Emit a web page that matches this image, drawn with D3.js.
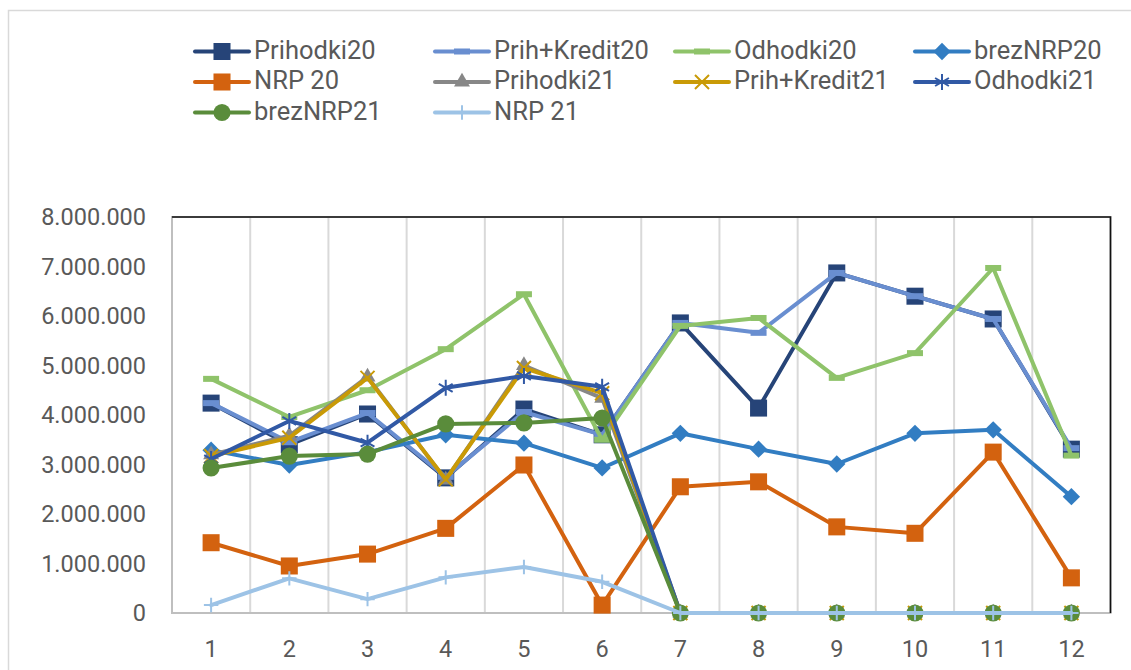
<!DOCTYPE html>
<html>
<head>
<meta charset="utf-8">
<script src="https://cdn.jsdelivr.net/npm/d3@7"></script>
<style>
  body { margin: 0; background: #fff; }
  svg text { font-family: Roboto, "Open Sans", sans-serif; fill: #595959; }
</style>
</head>
<body>
<div id="chart"></div>
<script>
// months on the x axis
const months = ['1', '2', '3', '4', '5', '6', '7', '8', '9', '10', '11', '12'];
const yTicks = [0, 1000000, 2000000, 3000000, 4000000, 5000000, 6000000, 7000000, 8000000];

// series values
const prihodki20   = [4240000, 3400000, 4020000, 2730000, 4120000, 3600000, 5860000, 4140000, 6870000, 6400000, 5940000, 3310000];
const prihKredit20 = [4240000, 3450000, 4040000, 2750000, 4060000, 3600000, 5860000, 5660000, 6870000, 6400000, 5940000, 3330000];
const odhodki20    = [4730000, 3960000, 4500000, 5330000, 6440000, 3500000, 5800000, 5960000, 4750000, 5250000, 6970000, 3180000];
const brezNRP20    = [3290000, 2990000, 3250000, 3600000, 3430000, 2930000, 3630000, 3310000, 3010000, 3630000, 3700000, 2350000];
const nrp20        = [1420000, 950000, 1190000, 1710000, 2990000, 160000, 2550000, 2650000, 1740000, 1610000, 3250000, 710000];
const prihodki21   = [3200000, 3580000, 4770000, 2690000, 5000000, 4340000, 0, 0, 0, 0, 0, 0];
const prihKredit21 = [3170000, 3540000, 4750000, 2700000, 4950000, 4440000, 0, 0, 0, 0, 0, 0];
const odhodki21    = [3110000, 3880000, 3440000, 4550000, 4790000, 4570000, 0, 0, 0, 0, 0, 0];
const brezNRP21    = [2930000, 3170000, 3210000, 3820000, 3840000, 3940000, 0, 0, 0, 0, 0, 0];
const nrp21        = [160000, 700000, 280000, 720000, 930000, 630000, 0, 0, 0, 0, 0, 0];

// legend order == draw order (excel fills the legend row by row)
const series = [
  {name: 'Prihodki20',    values: prihodki20,   color: '#264478', marker: 'square'},
  {name: 'Prih+Kredit20', values: prihKredit20, color: '#698ed0', marker: 'dash'},
  {name: 'Odhodki20',     values: odhodki20,    color: '#8fc36a', marker: 'dash'},
  {name: 'brezNRP20',     values: brezNRP20,    color: '#327dc2', marker: 'diamond'},
  {name: 'NRP 20',        values: nrp20,        color: '#d3620f', marker: 'square'},
  {name: 'Prihodki21',    values: prihodki21,   color: '#878787', marker: 'triangle'},
  {name: 'Prih+Kredit21', values: prihKredit21, color: '#c99a06', marker: 'times'},
  {name: 'Odhodki21',     values: odhodki21,    color: '#3159a5', marker: 'asterisk'},
  {name: 'brezNRP21',     values: brezNRP21,    color: '#5a8c3b', marker: 'circle'},
  {name: 'NRP 21',        values: nrp21,        color: '#9dc3e6', marker: 'plus'},
];

const W = 1131, H = 670;
const plot = {left: 172, right: 1110.5, top: 217, bottom: 613};

const locale = d3.formatLocale({decimal: ',', thousands: '.', grouping: [3], currency: ['', '€']});
const fmt = locale.format(',d');

const svg = d3.select('#chart').append('svg')
  .attr('width', W)
  .attr('height', H);

// outer chart frame (runs off the picture to the right and bottom)
svg.append('rect')
  .attr('x', 8.5).attr('y', 10.5)
  .attr('width', W).attr('height', H)
  .attr('fill', 'none')
  .attr('stroke', '#d9d9d9')
  .attr('stroke-width', 1.5);

const x = d3.scaleBand()
  .domain(months)
  .range([plot.left, plot.right])
  .padding(0);
const y = d3.scaleLinear()
  .domain([0, 8000000])
  .range([plot.bottom, plot.top]);

// vertical gridlines between categories
svg.append('g')
  .selectAll('line')
  .data(months.slice(1))
  .join('line')
    .attr('x1', d => x(d)).attr('x2', d => x(d))
    .attr('y1', plot.top).attr('y2', plot.bottom)
    .attr('stroke', '#d9d9d9')
    .attr('stroke-width', 2);

// plot area border: grey left/bottom, black top/right
svg.append('rect')
  .attr('x', plot.left).attr('y', plot.top)
  .attr('width', plot.right - plot.left)
  .attr('height', plot.bottom - plot.top)
  .attr('fill', 'none')
  .attr('stroke', '#bfbfbf')
  .attr('stroke-width', 2);
svg.append('path')
  .attr('d', `M${plot.left},${plot.top}H${plot.right}V${plot.bottom}`)
  .attr('fill', 'none')
  .attr('stroke', '#111')
  .attr('stroke-width', 1.6);

// axes (labels only, no tick marks)
const yAxis = d3.axisLeft(y)
  .tickValues(yTicks)
  .tickFormat(fmt)
  .tickSize(0)
  .tickPadding(26);
svg.append('g')
  .attr('transform', `translate(${plot.left},0)`)
  .call(yAxis)
  .call(g => g.select('.domain').remove())
  .selectAll('text')
    .attr('font-size', 23.5)
    .attr('font-family', null)
    .attr('fill', null);

const xAxis = d3.axisBottom(x)
  .tickSize(0)
  .tickPadding(27);
svg.append('g')
  .attr('transform', `translate(0,${plot.bottom})`)
  .call(xAxis)
  .call(g => g.select('.domain').remove())
  .selectAll('text')
    .attr('font-size', 23.5)
    .attr('font-family', null)
    .attr('fill', null);

// markers, drawn around (0,0)
function addMarker(sel, s) {
  const sym = (type, size) => d3.symbol().type(type).size(size)();
  switch (s.marker) {
    case 'square':
      sel.append('path').attr('d', sym(d3.symbolSquare, 290)).attr('fill', s.color);
      break;
    case 'diamond':
      sel.append('path').attr('d', sym(d3.symbolSquare, 150))
        .attr('transform', 'rotate(45)').attr('fill', s.color);
      break;
    case 'circle':
      sel.append('path').attr('d', sym(d3.symbolCircle, 230)).attr('fill', s.color);
      break;
    case 'triangle':
      sel.append('path').attr('d', sym(d3.symbolTriangle, 110)).attr('fill', s.color);
      break;
    case 'dash':
      sel.append('rect').attr('x', -8).attr('y', -3).attr('width', 16).attr('height', 6)
        .attr('fill', s.color);
      break;
    case 'times':
      sel.append('path').attr('d', sym(d3.symbolTimes, 130))
        .attr('fill', 'none').attr('stroke', s.color).attr('stroke-width', 2);
      break;
    case 'asterisk':
      sel.append('path').attr('d', sym(d3.symbolAsterisk, 180))
        .attr('fill', 'none').attr('stroke', s.color).attr('stroke-width', 2);
      break;
    case 'plus':
      sel.append('path').attr('d', sym(d3.symbolPlus, 70))
        .attr('fill', 'none').attr('stroke', s.color).attr('stroke-width', 2);
      break;
  }
}

const line = d3.line()
  .x((d, i) => x(months[i]) + x.bandwidth() / 2)
  .y(d => y(d));

for (const s of series) {
  const g = svg.append('g').attr('class', 'series');
  g.append('path')
    .attr('d', line(s.values))
    .attr('fill', 'none')
    .attr('stroke', s.color)
    .attr('stroke-width', 4)
    .attr('stroke-linejoin', 'round')
    .attr('stroke-linecap', 'round');
  g.selectAll('g.pt')
    .data(s.values)
    .join('g')
      .attr('class', 'pt')
      .attr('transform', (d, i) => `translate(${x(months[i]) + x.bandwidth() / 2},${y(d)})`)
      .each(function() { addMarker(d3.select(this), s); });
}

// legend: 4 columns, filled row by row
const legend = {x0: 195, colW: 240, y0: 51.5, rowH: 30.5, lineLen: 54};
const lg = svg.append('g').attr('class', 'legend');
series.forEach((s, i) => {
  const col = i % 4, row = Math.floor(i / 4);
  const gx = legend.x0 + col * legend.colW;
  const gy = legend.y0 + row * legend.rowH;
  const item = lg.append('g').attr('transform', `translate(${gx},${gy})`);
  item.append('line')
    .attr('x1', 0).attr('x2', legend.lineLen)
    .attr('stroke', s.color)
    .attr('stroke-width', 4)
    .attr('stroke-linecap', 'round');
  addMarker(item.append('g').attr('transform', `translate(${legend.lineLen / 2},0)`), s);
  item.append('text')
    .attr('x', legend.lineLen + 5)
    .attr('y', 7)
    .attr('font-size', 25.5)
    .text(s.name);
});
</script>
</body>
</html>
